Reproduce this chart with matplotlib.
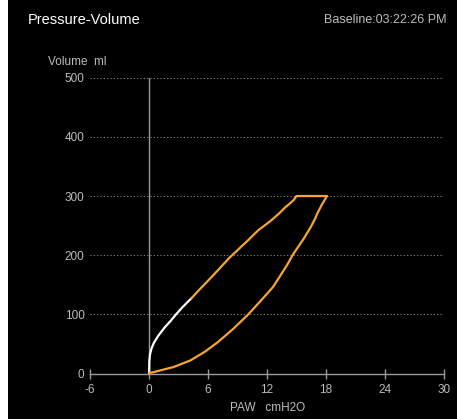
import matplotlib
matplotlib.use("Agg")
import matplotlib.pyplot as plt
from matplotlib.patches import Rectangle

# ---- data ----
x_ticks = [-6, 0, 6, 12, 18, 24, 30]
y_ticks = [0, 100, 200, 300, 400, 500]

insp_white_paw = [0, 0.02, 0.03, 0.1, 0.25, 0.5, 0.95, 1.6, 2.2, 2.75, 3.4, 4.3]
insp_white_vol = [0, 8, 20, 32, 42, 52, 64, 78, 89, 100, 112, 127]

insp_orange_paw = [4.3, 5.2, 6.3, 7.2, 8.2, 9.1, 10.0, 11.1, 12.3, 13.2, 13.8, 14.3, 14.7, 15.0, 18.1]
insp_orange_vol = [127, 143, 162, 178, 196, 210, 224, 242, 257, 270, 280, 287, 293, 300, 300]

exp_paw = [18.1, 17.6, 17.1, 16.9, 16.4, 15.7, 15.0, 14.6, 14.1, 13.3, 12.6, 11.8, 11.2, 10.1,
           8.6, 7.0, 5.7, 4.2, 2.5, 1.1, 0.4, 0.0]
exp_vol = [300, 286, 270, 262, 246, 227, 210, 200, 185, 164, 146, 131, 120, 100,
           76, 53, 37, 22, 11, 5, 2, 1]

title = "Pressure-Volume"
baseline = "Baseline:03:22:26 PM"
ylabel = "Volume  ml"
xlabel = "PAW   cmH2O"

# ---- style ----
FONT = ["Liberation Sans Narrow", "Liberation Sans", "DejaVu Sans"]
plt.rcParams['font.family'] = FONT
plt.rcParams['axes.unicode_minus'] = False
GREY = "#bdbdbd"
ORANGE = "#f7a530"

fig = plt.figure(figsize=(4.57, 4.19), dpi=100, facecolor="black")
# white left strip
fig.patches.append(Rectangle((0, 0), 8 / 457, 1, transform=fig.transFigure,
                             facecolor="white", edgecolor="none", zorder=0))

left, right = 90 / 457, 444 / 457
bottom, top = 1 - 373.5 / 419, 1 - 77.7 / 419
ax = fig.add_axes([left, bottom, right - left, top - bottom])
ax.set_facecolor("black")
ax.set_xlim(-6, 30)
ax.set_ylim(0, 500)

for s in ax.spines.values():
    s.set_visible(False)

# dotted grid
for yv in y_ticks[1:]:
    ax.axhline(yv, color="#8a8a8a", lw=0.8, ls=(0, (1, 2)), zorder=1)
# x axis line and vertical zero line
ax.axhline(0, color="#9a9a9a", lw=1.0, zorder=2, clip_on=False)
ax.axvline(0, color="#9a9a9a", lw=1.0, zorder=2)

ax.set_xticks(x_ticks)
ax.set_yticks(y_ticks)
ax.tick_params(axis="x", direction="inout", length=7, width=1, color="#9a9a9a",
               labelcolor=GREY, labelsize=8.5, pad=4)
ax.tick_params(axis="y", length=0, labelcolor=GREY, labelsize=8.5, pad=4)

kw = dict(lw=1.6, zorder=4, solid_capstyle="round", solid_joinstyle="round")
ax.plot(insp_white_paw, insp_white_vol, color="white", **kw)
ax.plot(insp_orange_paw, insp_orange_vol, color=ORANGE, **kw)
ax.plot(exp_paw, exp_vol, color=ORANGE, **kw)

fig.text(28 / 457, 1 - 20 / 419, title, color="white", fontsize=10.5,
         ha="left", va="center")
fig.text(446 / 457, 1 - 20 / 419, baseline, color=GREY, fontsize=9,
         ha="right", va="center")
fig.text(77 / 457, 1 - 62 / 419, ylabel, color=GREY, fontsize=8.5,
         ha="center", va="center")
fig.text(268 / 457, 1 - 408 / 419, xlabel, color=GREY, fontsize=8.5,
         ha="center", va="center")

fig.savefig("out.png", dpi=100, facecolor="black")
